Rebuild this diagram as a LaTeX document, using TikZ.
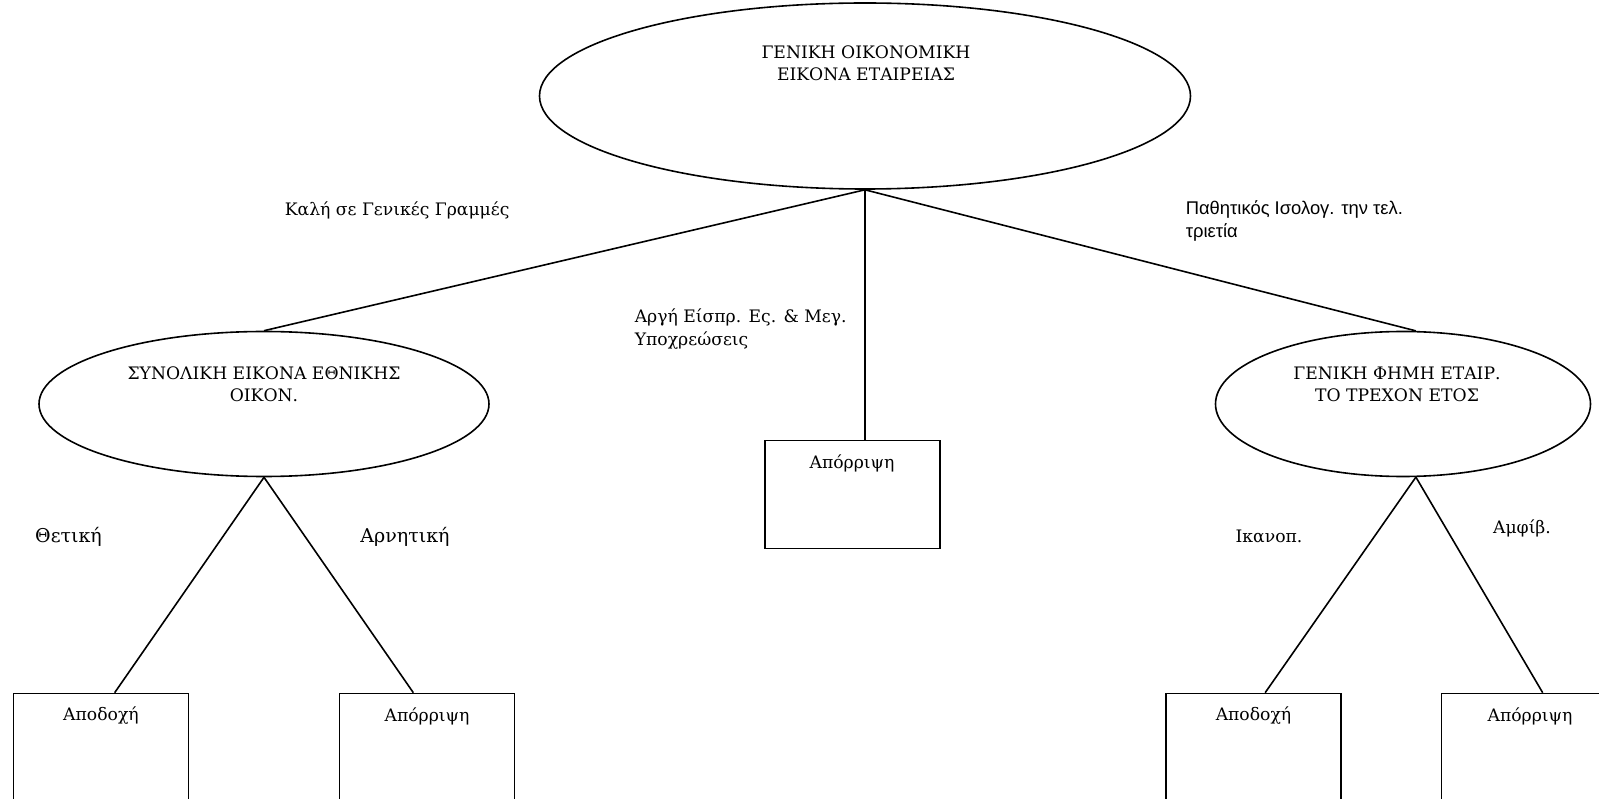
\documentclass[tikz,border=0pt]{standalone}
\usepackage{fontspec}
\setmainfont{DejaVu Serif}
\newfontfamily\arialgr{Liberation Sans}
\usetikzlibrary{shapes.geometric}

\begin{document}
\begin{tikzpicture}[x=1pt,y=-1pt,line width=1.6pt,
  oval/.style={draw,ellipse,inner sep=0pt},
  box/.style={draw,rectangle,minimum width=175pt,minimum height=108pt,inner sep=0pt},
  txt/.style={font=\fontsize{17.2}{22.4}\selectfont,align=center,inner sep=0pt},
  big/.style={font=\fontsize{19}{23}\selectfont,inner sep=0pt}]
\useasboundingbox (0,0) rectangle (1599,799);
\clip (0,0) rectangle (1599,799);
% ellipses
\node[oval,minimum width=651pt,minimum height=186pt] (top) at (865,96) {};
\node[oval,minimum width=450pt,minimum height=145pt] (le) at (264,404) {};
\node[oval,minimum width=375pt,minimum height=145pt] (re) at (1403,404) {};
\node[txt] (toptxt) at (866,63) {ΓΕΝΙΚΗ ΟΙΚΟΝΟΜΙΚΗ\\ΕΙΚΟΝΑ ΕΤΑΙΡΕΙΑΣ};
\node[txt] (letxt) at (264,384.5) {ΣΥΝΟΛΙΚΗ ΕΙΚΟΝΑ ΕΘΝΙΚΗΣ\\ΟΙΚΟΝ.};
\node[txt] (retxt) at (1397,384.5) {ΓΕΝΙΚΗ ΦΗΜΗ ΕΤΑΙΡ.\\ΤΟ ΤΡΕΧΟΝ ΕΤΟΣ};
% boxes
\node[box] (mid) at (852.5,494.5) {};
\node[box] (b1) at (101,747.5) {};
\node[box] (b2) at (427,747.5) {};
\node[box] (b3) at (1253.5,747.5) {};
\node[box] (b4) at (1529,747.5) {};
\node[txt] (midtxt) at (852,463) {Απόρριψη};
\node[txt] (b1txt) at (101,716) {Αποδοχή};
\node[txt] (b2txt) at (427,716) {Απόρριψη};
\node[txt] (b3txt) at (1253.5,716) {Αποδοχή};
\node[txt] (b4txt) at (1530,716) {Απόρριψη};
% lines
\draw (top.south)--(le.north);
\draw (top.south)--(re.80);
\draw (top.south)--(top.south |- mid.north);
\draw (le.south)--(b1.76);
\draw (le.south)--(b2.104);
\draw (re.-80)--(b3.78);
\draw (re.-80)--(b4.76);
% labels
\node[txt,anchor=west] (good) at (284,210) {Καλή σε Γενικές Γραμμές};
\node[txt,anchor=west,align=left,font=\arialgr\fontsize{18.4}{22.4}\selectfont] (pass) at (1185,221) {Παθητικός Ισολογ. την τελ.\\τριετία};
\node[txt,anchor=west,align=left] (slow) at (634,329) {Αργή Είσπρ. Ες. \& Μεγ.\\Υποχρεώσεις};
\node[big] (pos) at (68.5,537) {Θετική};
\node[big] (neg) at (405,537) {Αρνητική};
\node[txt] (ok) at (1269,537) {Ικανοπ.};
\node[txt] (amf) at (1522,528) {Αμφίβ.};
\end{tikzpicture}
\end{document}
